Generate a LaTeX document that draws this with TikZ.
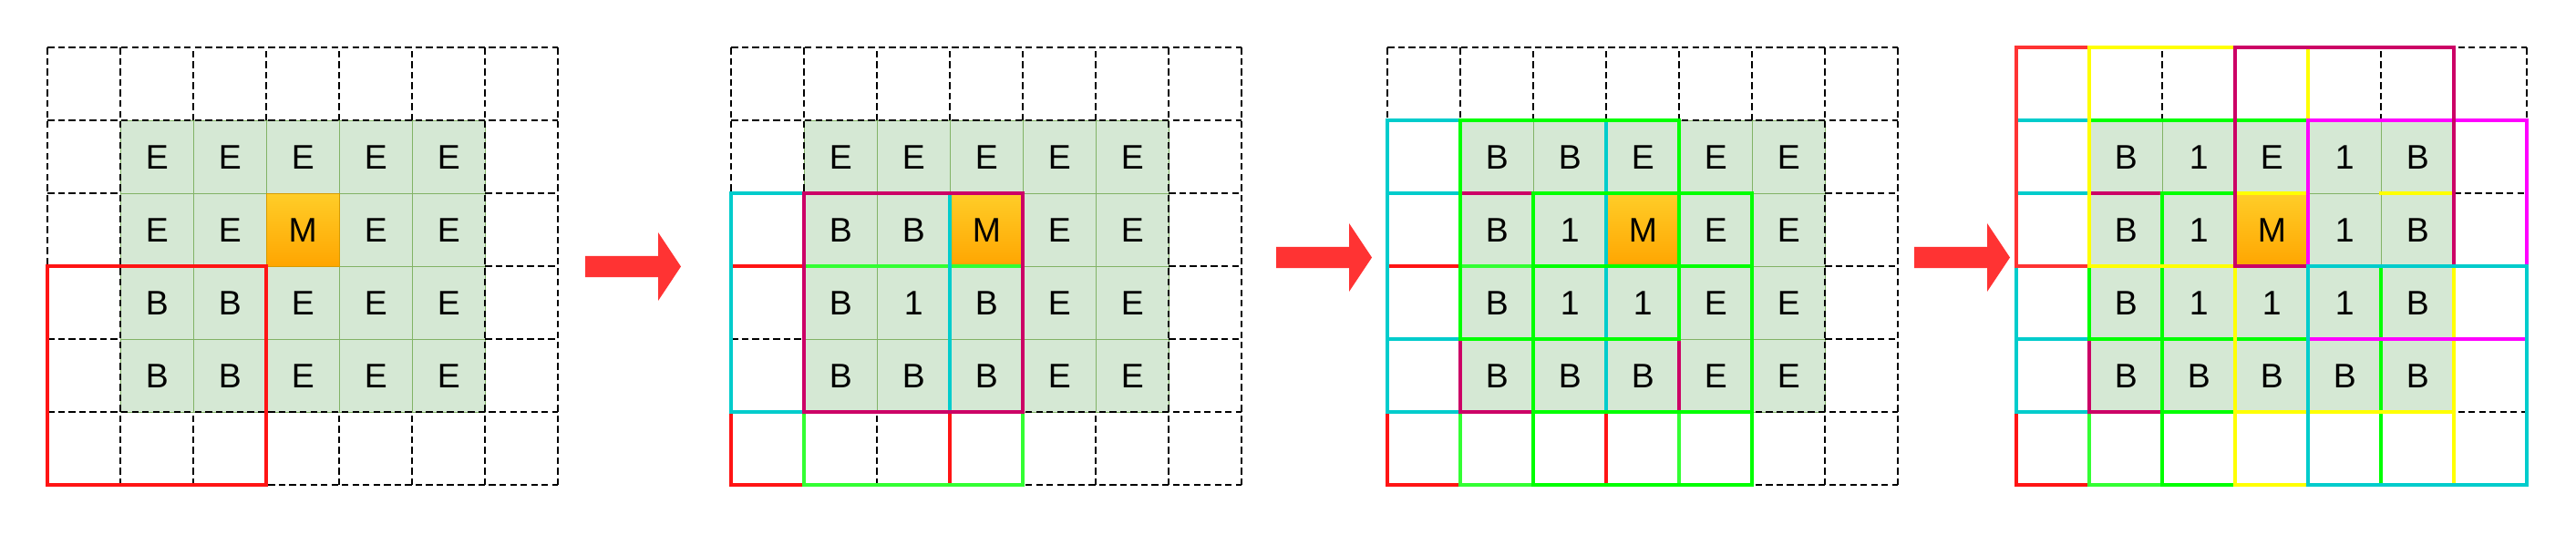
\documentclass[tikz,border=0pt]{standalone}
\usepackage{fontspec}
\setmainfont{Liberation Sans}
\definecolor{cellgreen}{RGB}{213,232,212}
\definecolor{cellline}{RGB}{130,179,102}
\definecolor{mtop}{RGB}{255,205,40}
\definecolor{mbot}{RGB}{255,165,0}
\definecolor{mline}{RGB}{215,155,0}
\definecolor{redA}{RGB}{255,20,20}
\definecolor{redB}{RGB}{255,51,51}
\definecolor{greenA}{RGB}{0,255,0}
\definecolor{greenB}{RGB}{51,255,51}
\definecolor{cyanA}{RGB}{0,204,204}
\definecolor{crimsonA}{RGB}{204,0,102}
\definecolor{magentaA}{RGB}{255,0,255}
\definecolor{yellowA}{RGB}{255,255,0}
\definecolor{arrowred}{RGB}{255,51,51}

\begin{document}
\begin{tikzpicture}[
    cellbg/.style={fill=cellgreen, draw=cellline, line width=0.4pt},
    gridline/.style={draw=black, line width=0.65pt, dash pattern=on 2.6pt off 1.5pt},
    mcell/.style={top color=mtop, bottom color=mbot, draw=mline, line width=0.4pt},
    lbl/.style={font=\fontsize{13.3}{16}\selectfont, inner sep=0pt},
    box/.style={line width=1.5pt},
    basegrid/.pic={
        \foreach \x in {1,...,5} \foreach \y in {1,...,4} \path[cellbg] (\x,\y) rectangle ++(1,1);
        \foreach \y in {0,1,5,6} \draw[gridline] (0,\y) -- (7,\y);
        \foreach \y in {2,3,4} {\draw[gridline] (0,\y) -- (1,\y); \draw[gridline] (6,\y) -- (7,\y);}
        \foreach \x in {0,1,6,7} \draw[gridline] (\x,0) -- (\x,6);
        \foreach \x in {2,...,5} {\draw[gridline] (\x,0) -- (\x,1); \draw[gridline] (\x,5) -- (\x,6);}
        \path[mcell] (3,3) rectangle (4,4);
    },
    bigarrow/.pic={
        \fill[arrowred] (0,0.144) -- (1,0.144) -- (1,0.469) -- (1.3125,0) -- (1,-0.469) -- (1,-0.144) -- (0,-0.144) -- cycle;
    },
]
\useasboundingbox (0,0) rectangle (35.325,7.325);

\begin{scope}[shift={(0.654,0.671)}]
\pic {basegrid};
\foreach \lab [count=\k from 0] in {E,E,E,E,E, E,E,M,E,E, B,B,E,E,E, B,B,E,E,E} {
    \pgfmathtruncatemacro\cx{mod(\k,5)}
    \pgfmathtruncatemacro\cy{div(\k,5)}
    \node[lbl] (a\k) at (1.5+\cx,4.5-\cy) {\lab};
}
\draw[box, redA] (0,0) rectangle (3,3);
\end{scope}

\pic at (8.025,3.669) {bigarrow};

\begin{scope}[shift={(10.029,0.671)}]
\pic {basegrid};
\foreach \lab [count=\k from 0] in {E,E,E,E,E, B,B,M,E,E, B,1,B,E,E, B,B,B,E,E} {
    \pgfmathtruncatemacro\cx{mod(\k,5)}
    \pgfmathtruncatemacro\cy{div(\k,5)}
    \node[lbl] (b\k) at (1.5+\cx,4.5-\cy) {\lab};
}
\foreach \col/\xa/\ya/\xb/\yb in {redA/0/0/3/3, greenB/1/0/4/3, cyanA/0/1/3/4, crimsonA/1/1/4/4}
    \draw[box, \col] (\xa,\ya) rectangle (\xb,\yb);
\end{scope}

\pic at (17.5,3.794) {bigarrow};

\begin{scope}[shift={(19.029,0.671)}]
\pic {basegrid};
\foreach \lab [count=\k from 0] in {B,B,E,E,E, B,1,M,E,E, B,1,1,E,E, B,B,B,E,E} {
    \pgfmathtruncatemacro\cx{mod(\k,5)}
    \pgfmathtruncatemacro\cy{div(\k,5)}
    \node[lbl] (c\k) at (1.5+\cx,4.5-\cy) {\lab};
}
\foreach \col/\xa/\ya/\xb/\yb in {redA/0/0/3/3, greenB/1/0/4/3, cyanA/0/1/3/4, crimsonA/1/1/4/4,
        cyanA/0/2/3/5, greenA/1/2/4/5, greenA/2/1/5/4, greenA/2/0/5/3}
    \draw[box, \col] (\xa,\ya) rectangle (\xb,\yb);
\end{scope}

\pic at (26.25,3.794) {bigarrow};

\begin{scope}[shift={(27.654,0.671)}]
\pic {basegrid};
\foreach \lab [count=\k from 0] in {B,1,E,1,B, B,1,M,1,B, B,1,1,1,B, B,B,B,B,B} {
    \pgfmathtruncatemacro\cx{mod(\k,5)}
    \pgfmathtruncatemacro\cy{div(\k,5)}
    \node[lbl] (d\k) at (1.5+\cx,4.5-\cy) {\lab};
}
\foreach \col/\xa/\ya/\xb/\yb in {redA/0/0/3/3, greenB/1/0/4/3, cyanA/0/1/3/4, crimsonA/1/1/4/4,
        cyanA/0/2/3/5, greenA/1/2/4/5}
    \draw[box, \col] (\xa,\ya) rectangle (\xb,\yb);
\draw[box, greenA, line cap=rect] (5,3) -- (5,1) -- (2,1) -- (2,4) -- (4,4);
\foreach \col/\xa/\ya/\xb/\yb in {greenA/2/0/5/3, redB/0/3/3/6, yellowA/1/3/4/6, yellowA/3/0/6/3}
    \draw[box, \col] (\xa,\ya) rectangle (\xb,\yb);
\draw[box, yellowA, line cap=rect] (5,4) -- (6,4) -- (6,1) -- (3,1) -- (3,4) -- (4,4);
\foreach \col/\xa/\ya/\xb/\yb in {magentaA/4/2/7/5, crimsonA/3/3/6/6, cyanA/4/0/7/3}
    \draw[box, \col] (\xa,\ya) rectangle (\xb,\yb);
\end{scope}
\end{tikzpicture}
\end{document}
